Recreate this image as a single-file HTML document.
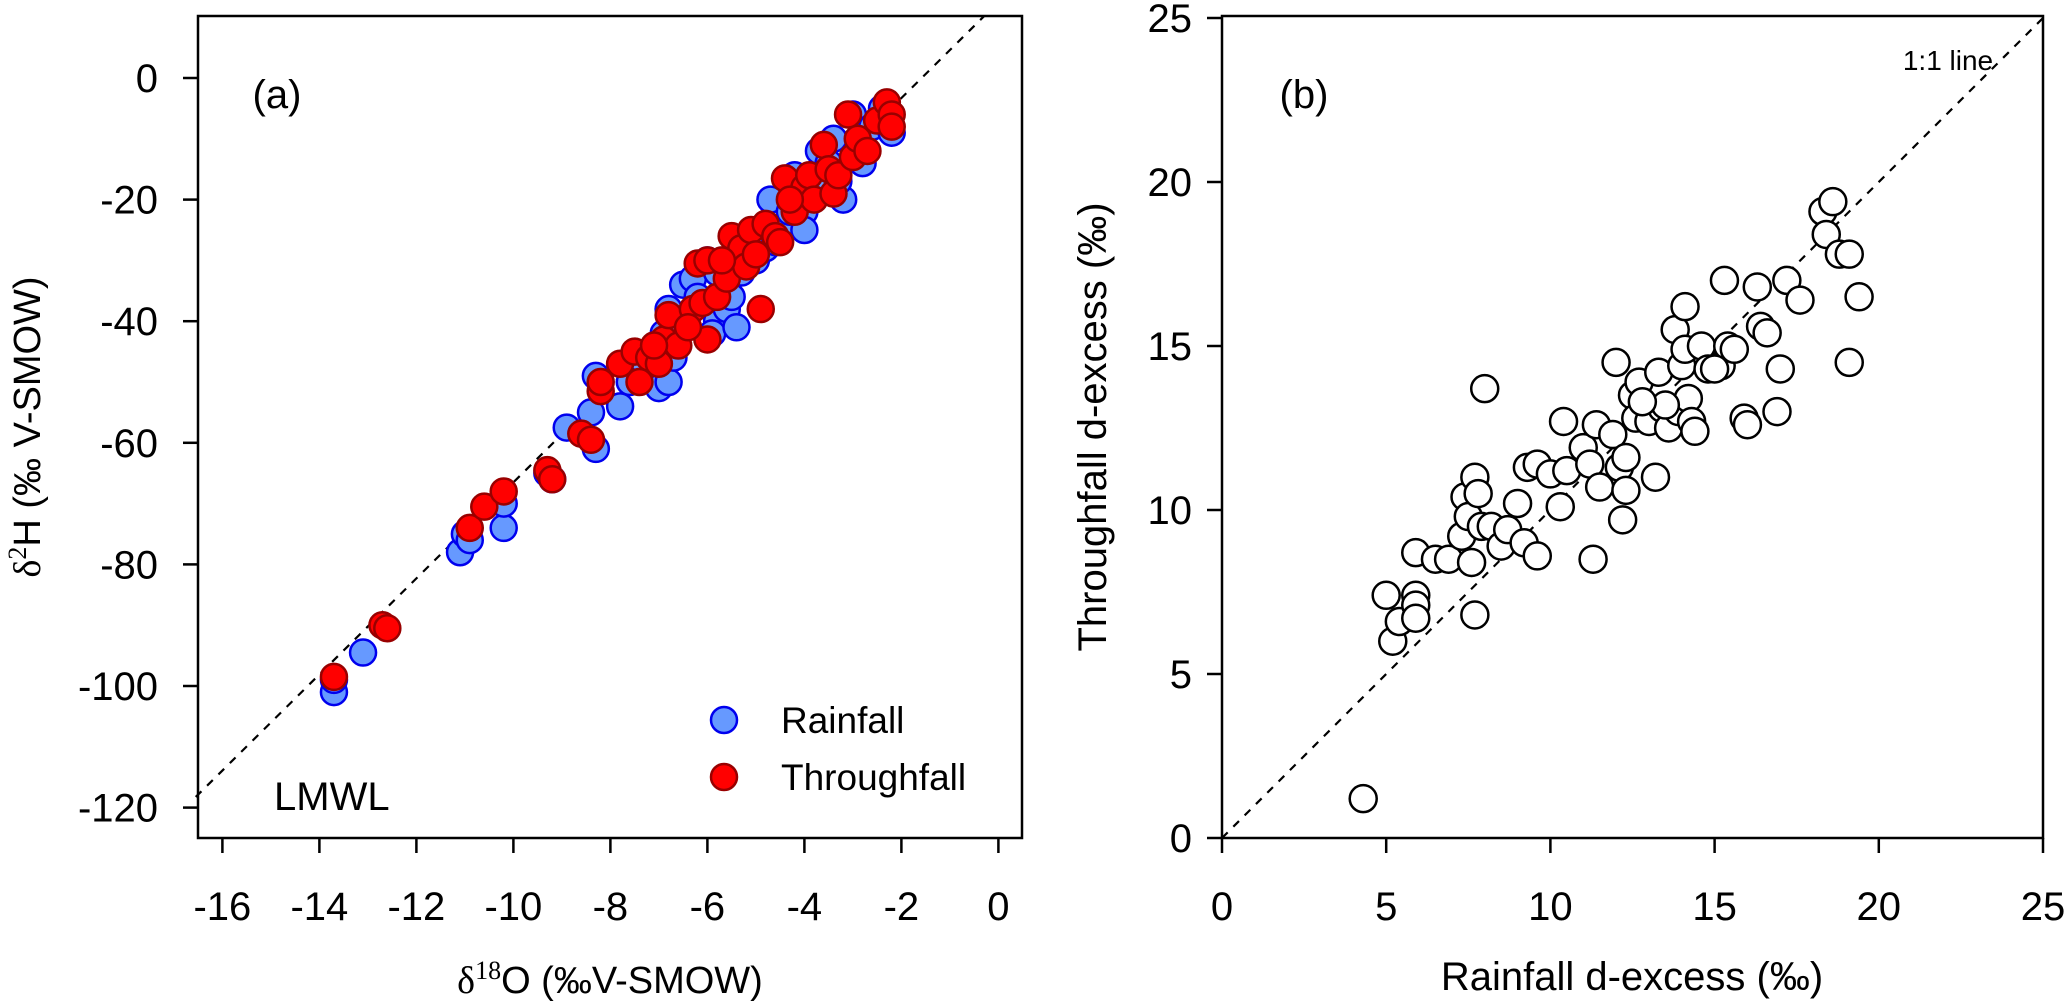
<!DOCTYPE html>
<html><head><meta charset="utf-8"><style>
html,body{margin:0;padding:0;background:#fff;}
svg{display:block;font-family:"Liberation Sans",Arial,sans-serif;}
</style></head><body>
<svg id="chart" width="2067" height="1008" viewBox="0 0 2067 1008"></svg>
<script>
// Panel (a) data: delta18O, delta2H
const rainX = [-13.7,-13.7,-13.1,-11.1,-11,-10.9,-10.2,-10.2,-9.2,-9.3,-8.9,-8.3,-8.4,-8.3,-7.8,-7.6,-7.3,-7.0,-6.8,-6.7,-6.9,-6.6,-6.5,-6.3,-6.0,-5.8,-5.8,-5.6,-5.5,-5.9,-5.3,-5.0,-4.8,-4.7,-4.5,-4.3,-4.0,-3.8,-4.2,-3.7,-3.5,-3.2,-3.0,-2.8,-2.6,-2.4,-2.2,-3.4,-4.6,-5.2,-6.2,-7.4,-6.8,-5.4,-4.0,-3.3];
const rainY = [-101,-99,-94.5,-78,-75,-76,-74,-70,-66,-65,-57.5,-61,-55,-49,-54,-50,-48,-51,-50,-46,-42,-40,-34,-33,-30,-32,-40,-38,-36,-42,-32,-30,-28,-20,-25,-22,-22,-18,-16,-12,-14,-20,-6,-14,-8,-5,-9,-10,-27,-26,-36,-46,-38,-41,-25,-17];
const thruX = [-13.7,-12.7,-12.6,-10.9,-10.6,-10.2,-9.3,-9.2,-8.6,-8.4,-8.2,-8.2,-7.8,-7.5,-7.4,-7.2,-7.0,-6.9,-6.8,-6.6,-6.3,-6.2,-6.0,-6.1,-6.0,-5.8,-5.6,-5.5,-5.3,-5.2,-5.1,-4.9,-4.8,-4.6,-4.5,-4.4,-4.2,-4.0,-3.9,-3.8,-3.6,-3.5,-3.4,-3.3,-3.1,-3.0,-2.9,-2.7,-2.5,-2.3,-2.2,-2.2,-5.7,-5.0,-4.3,-6.4,-7.1];
const thruY = [-98.5,-90,-90.5,-74,-70.5,-68,-64.5,-66,-58.5,-59.5,-51.5,-50,-47,-45,-50,-46,-47,-43,-39,-44,-38,-30.5,-30,-37,-43,-36,-33,-26,-28,-31,-25,-38,-24,-26,-27,-16.5,-22,-18,-16,-20,-11,-15,-19,-16,-6,-13,-10,-12,-7,-4,-6,-8,-30,-29,-20,-41,-44];
const aXTicks = [-16,-14,-12,-10,-8,-6,-4,-2,0];
const aYTicks = [0,-20,-40,-60,-80,-100,-120];
const lmwl = [7.9, 12.5]; // slope, intercept
// Panel (b) data: rainfall d-excess vs throughfall d-excess
const dRain = [4.3,5.0,5.2,5.4,5.9,5.9,5.9,5.9,6.5,6.9,7.3,7.4,7.5,7.6,7.7,7.7,7.8,7.9,8.0,8.2,8.5,8.7,9.0,9.2,9.3,9.6,9.6,10.0,10.3,10.4,10.5,11.0,11.2,11.3,11.4,11.5,11.9,12.0,12.1,12.2,12.3,12.3,12.5,12.6,12.7,13.0,13.2,13.3,13.4,13.6,13.8,13.9,14.0,14.1,14.1,14.2,14.3,14.4,14.6,14.8,15.2,15.3,15.4,15.6,15.9,16.0,16.3,16.4,16.6,16.9,17.0,17.2,17.6,18.3,18.4,18.6,18.8,19.1,19.1,19.4,15.0,13.5,12.8];
const dThru = [1.2,7.4,6.0,6.6,7.4,7.1,8.7,6.7,8.5,8.5,9.2,10.4,9.8,8.4,6.8,11.0,10.5,9.5,13.7,9.5,8.9,9.4,10.2,9.0,11.3,11.4,8.6,11.1,10.1,12.7,11.2,11.9,11.4,8.5,12.6,10.7,12.3,14.5,11.3,9.7,11.6,10.6,13.5,12.8,13.9,12.7,11.0,14.2,13.1,12.5,15.5,13.0,14.4,16.2,14.9,13.4,12.7,12.4,15.0,14.3,14.4,17.0,15.0,14.9,12.8,12.6,16.8,15.6,15.4,13.0,14.3,17.0,16.4,19.1,18.4,19.4,17.8,17.8,14.5,16.5,14.3,13.2,13.3];
const bTicks = [0,5,10,15,20,25];

const NS='http://www.w3.org/2000/svg';
const svg=document.getElementById('chart');
function mk(tag,attrs,parent){const e=document.createElementNS(NS,tag);for(const k in attrs)e.setAttribute(k,attrs[k]);(parent||svg).appendChild(e);return e;}

const ax=v=>222.4+(v+16)*48.5;
const ay=v=>78-v*6.08;
const bx=v=>1222+v*32.84;
const by=v=>838-v*32.8;

const ga=mk('g',{});


const x0=-16.55, y0=lmwl[0]*x0+lmwl[1];
const yTop=(78-16)/6.08; const x1=(yTop-lmwl[1])/lmwl[0];
const ll=mk('line',{x1:ax(x0),y1:ay(y0),x2:ax(x1),y2:ay(yTop),stroke:'#000','stroke-width':2.2,'stroke-dasharray':'8,8'},ga);


rainX.forEach((x,i)=>{const c=mk('circle',{cx:ax(x),cy:ay(rainY[i]),r:13,fill:'#6699ff',stroke:'#0000ee','stroke-width':2.5},ga);

});
thruX.forEach((x,i)=>{const c=mk('circle',{cx:ax(x),cy:ay(thruY[i]),r:13,fill:'#ff0000',stroke:'#990000','stroke-width':2.5},ga);

});
const boxA=mk('rect',{x:198,y:16,width:824,height:822,fill:'none',stroke:'#000','stroke-width':2.5},ga);


aXTicks.forEach(t=>{const l=mk('line',{x1:ax(t),x2:ax(t),y1:838,y2:853,stroke:'#000','stroke-width':2.5},ga);


const tx=mk('text',{x:ax(t),y:920,'font-size':40,'text-anchor':'middle'},ga);tx.textContent=t;

});
aYTicks.forEach(t=>{const l=mk('line',{x1:183,x2:198,y1:ay(t),y2:ay(t),stroke:'#000','stroke-width':2.5},ga);


const tx=mk('text',{x:158,y:ay(t)+14,'font-size':40,'text-anchor':'end'},ga);tx.textContent=t;

});

const gb=mk('g',{});


const ol=mk('line',{x1:bx(0),y1:by(0),x2:bx(25),y2:by(25),stroke:'#000','stroke-width':2.2,'stroke-dasharray':'8,8'},gb);


dRain.forEach((x,i)=>{const c=mk('circle',{cx:bx(x),cy:by(dThru[i]),r:13.5,fill:'#fff',stroke:'#000','stroke-width':2.5},gb);

});
const boxB=mk('rect',{x:1222,y:16,width:821,height:822,fill:'none',stroke:'#000','stroke-width':2.5},gb);


bTicks.forEach(t=>{const l=mk('line',{x1:bx(t),x2:bx(t),y1:838,y2:853,stroke:'#000','stroke-width':2.5},gb);


const tx=mk('text',{x:bx(t),y:920,'font-size':40,'text-anchor':'middle'},gb);tx.textContent=t;


const l2=mk('line',{x1:1207,x2:1222,y1:by(t),y2:by(t),stroke:'#000','stroke-width':2.5},gb);


const ty=mk('text',{x:1192,y:by(t)+14,'font-size':40,'text-anchor':'end'},gb);ty.textContent=t;

});
</script>
<svg width="2067" height="1008" style="position:absolute;left:0;top:0;font-family:'Liberation Sans',Arial,sans-serif">
  <text x="277" y="108" font-size="40" text-anchor="middle">(a)</text>
  <text x="1304" y="108" font-size="40" text-anchor="middle">(b)</text>
  <text x="274" y="810" font-size="40">LMWL</text>
  <text x="1948" y="70" font-size="28" text-anchor="middle">1:1 line</text>
  <g>
    <circle cx="724" cy="720" r="13" fill="#6699ff" stroke="#0000ee" stroke-width="2.5"/>
    <text x="781" y="733" font-size="37">Rainfall</text>
    <circle cx="724" cy="777" r="13" fill="#ff0000" stroke="#990000" stroke-width="2.5"/>
    <text x="781" y="790" font-size="37">Throughfall</text>
  </g>
  <text x="610" y="993" font-size="38" text-anchor="middle"><tspan font-family="Liberation Serif">δ</tspan><tspan font-family="Liberation Serif" font-size="26" dy="-14">18</tspan><tspan dy="14">O (‰V-SMOW)</tspan></text>
  <text transform="translate(40,427) rotate(-90)" font-size="38" text-anchor="middle"><tspan font-family="Liberation Serif">δ</tspan><tspan font-family="Liberation Serif" font-size="26" dy="-14">2</tspan><tspan dy="14">H (‰ V-SMOW)</tspan></text>
  <text x="1632" y="990" font-size="40" text-anchor="middle">Rainfall d-excess (‰)</text>
  <text transform="translate(1106,427) rotate(-90)" font-size="40" text-anchor="middle">Throughfall d-excess (‰)</text>
</svg>
</body></html>
